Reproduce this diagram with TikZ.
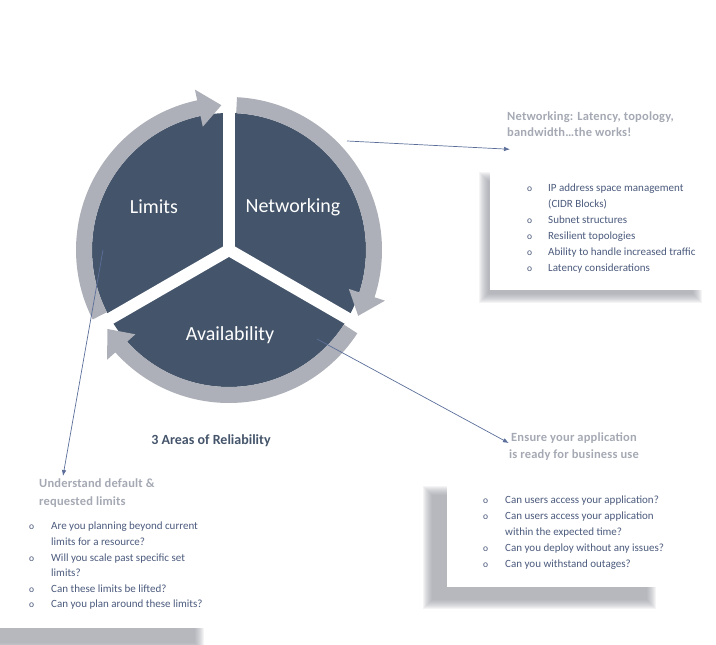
\documentclass[tikz,border=0pt]{standalone}
\usepackage{fontspec}
\setmainfont{Carlito}
\newfontfamily\headfont[LetterSpace=1.5]{Carlito}
\usepackage{tikz}
\usetikzlibrary{arrows.meta,positioning,calc}
\definecolor{slate}{HTML}{44546A}
\definecolor{ringgray}{HTML}{ADB0B8}
\definecolor{shadowgray}{HTML}{90939D}
\definecolor{palegray}{HTML}{A5A9B3}
\definecolor{listblue}{HTML}{4B5A7D}
\definecolor{pointerblue}{HTML}{5B6E99}
\newcommand\bul{{\fontsize{9.5}{9.5}\selectfont o}}
\newcommand\ringArrow[2]{%
  \fill[ringgray] (#1:153pt) arc[start angle=#1, end angle=#2+9, radius=153pt]
    -- (#2+9:164pt) -- (#2:145pt) -- (#2+9:126pt) -- (#2+9:137pt)
    arc[start angle=#2+9, end angle=#1, radius=137pt] -- cycle;}
\newcommand\softShadow[4]{%
  \foreach \k in {0,1,...,9}
    \fill[shadowgray, opacity=0.1] ({#1+\k-4},{#2+\k-4}) rectangle ({#3-\k+4},{#4-\k+4});}
\tikzset{
    pointer/.style={pointerblue, line width=0.7pt, -{Latex[length=6pt,width=4.5pt]}},
    sector/.style={text=white, font=\fontsize{20}{24}\selectfont},
    headline/.style={text=palegray, inner sep=0pt, font=\headfont\bfseries\fontsize{12.5}{17}\selectfont},
    listtext/.style={text=listblue, inner sep=0pt, anchor=base west, font=\fontsize{11}{16}\selectfont},
    title/.style={text=slate, font=\bfseries\fontsize{14}{16}\selectfont}
}
\begin{document}
\begin{tikzpicture}[x=1pt,y=1pt]
  \useasboundingbox (0,0) rectangle (716,645);
  \softShadow{483}{346}{698}{469}
  \softShadow{427}{40}{652}{155}
  \softShadow{-45}{-3}{200}{155}
  \fill[white] (490,355) rectangle (705,478);
  \fill[white] (447,58) rectangle (672,173);
  \fill[white] (-30,17) rectangle (215,175);

  \fill[slate] (229,395) circle[radius=137pt];
  \begin{scope}[shift={(229,395)}]
    \ringArrow{207}{93}
    \ringArrow{87}{-27}
    \ringArrow{-33}{-147}
    \foreach \a in {90,-30,210}
      \draw[white, line width=12pt, line cap=round] (0,0) -- (\a:178pt);
  \end{scope}

  \node[sector] (limits) at (154,438) {Limits};
  \node[sector] (networking) at (293,438) {Networking};
  \node[sector] (availability) at (230,310) {Availability};
  \node[title] (areas) at (211,204) {3 Areas of Reliability};

  \node[headline, anchor=base west, align=left, font=\headfont\bfseries\fontsize{12.5}{16}\selectfont]
    (netHead) at (507,508) {Networking: Latency, topology,\\bandwidth…the works!};
  \node[headline, anchor=base, align=center] (availHead) at (574,186)
    {Ensure your application\\is ready for business use};
  \node[headline, anchor=base west, align=left, font=\headfont\bfseries\fontsize{12.5}{18}\selectfont]
    (limHead) at (39,139) {Understand default \&\\requested limits};

  \node[listtext] (netList) at (527,453) {\begin{tabular}[t]{@{}p{21pt}@{}l@{}}
    \bul & IP address space management\\
         & (CIDR Blocks)\\
    \bul & Subnet structures\\
    \bul & Resilient topologies\\
    \bul & Ability to handle increased traffic\\
    \bul & Latency considerations
  \end{tabular}};
  \node[listtext] (availList) at (483,141) {\begin{tabular}[t]{@{}p{22pt}@{}l@{}}
    \bul & Can users access your application?\\
    \bul & Can users access your application\\
         & within the expected time?\\
    \bul & Can you deploy without any issues?\\
    \bul & Can you withstand outages?
  \end{tabular}};
  \node[listtext, font=\fontsize{11}{15.6}\selectfont] (limList) at (29,115) {\begin{tabular}[t]{@{}p{22pt}@{}l@{}}
    \bul & Are you planning beyond current\\
         & limits for a resource?\\
    \bul & Will you scale past specific set\\
         & limits?\\
    \bul & Can these limits be lifted?\\
    \bul & Can you plan around these limits?
  \end{tabular}};

  \coordinate (netFrom) at (347,504);
  \coordinate (availFrom) at (317,306);
  \coordinate (limFrom) at (103,395);
  \path[pointer] (netFrom) edge ([shift={(3,-12)}]netHead.south west);
  \path[pointer] (availFrom) edge ([yshift=4pt]availHead.west);
  \path[pointer] (limFrom) edge ([shift={(24,3)}]limHead.north west);
\end{tikzpicture}
\end{document}
